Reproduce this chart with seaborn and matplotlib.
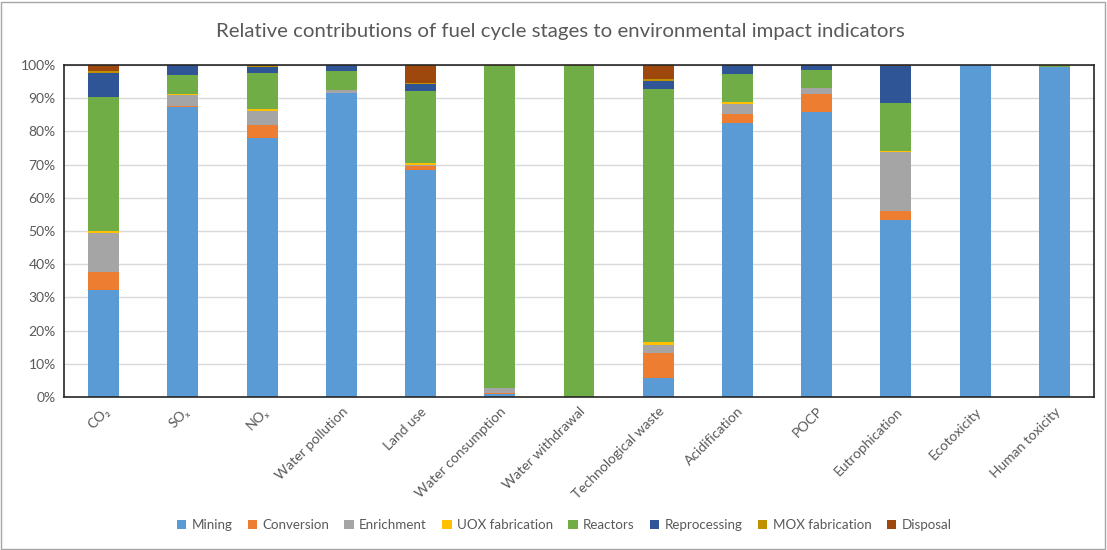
import numpy as np
import pandas as pd
import matplotlib
matplotlib.use("Agg")
import matplotlib.pyplot as plt
from matplotlib.patches import Rectangle, Patch
import seaborn as sns

categories = ["CO₂", "SOₓ", "NOₓ", "Water pollution", "Land use", "Water consumption",
              "Water withdrawal", "Technological waste", "Acidification", "POCP",
              "Eutrophication", "Ecotoxicity", "Human toxicity"]
stages = ["Mining", "Conversion", "Enrichment", "UOX fabrication", "Reactors",
          "Reprocessing", "MOX fabrication", "Disposal"]

mining       = [32.2, 87.4, 77.9, 91.6, 68.3, 0.8, 0.0, 5.6, 82.4, 85.9, 53.3, 99.9, 99.5]
conversion   = [5.4, 0.3, 4.1, 0.0, 1.2, 0.5, 0.0, 7.7, 2.7, 5.3, 2.8, 0.0, 0.0]
enrichment   = [11.7, 3.4, 4.2, 1.0, 0.3, 1.4, 0.0, 2.4, 3.3, 1.9, 17.7, 0.0, 0.0]
uox_fab      = [0.8, 0.1, 0.4, 0.0, 0.8, 0.0, 0.0, 0.9, 0.5, 0.1, 0.3, 0.0, 0.0]
reactors     = [40.2, 5.9, 11.0, 5.6, 21.5, 97.1, 99.8, 76.3, 8.5, 5.3, 14.5, 0.0, 0.2]
reprocessing = [7.3, 2.8, 1.8, 1.8, 2.3, 0.0, 0.0, 2.3, 2.6, 1.5, 11.1, 0.1, 0.0]
mox_fab      = [0.5, 0.05, 0.2, 0.0, 0.2, 0.1, 0.1, 0.7, 0.0, 0.0, 0.1, 0.0, 0.3]
disposal     = [1.8, 0.05, 0.3, 0.0, 5.3, 0.1, 0.1, 4.1, 0.0, 0.0, 0.2, 0.0, 0.0]

series = [mining, conversion, enrichment, uox_fab, reactors, reprocessing, mox_fab, disposal]
colors = ["#5B9BD5", "#ED7D31", "#A5A5A5", "#FFC000", "#70AD47", "#2F5597", "#BF9000", "#9E480E"]

sns.set_theme(style="white")
plt.rcParams['font.family'] = ['Lato', 'DejaVu Sans']
txt = "#595959"

fig = plt.figure(figsize=(11.07, 5.5), dpi=100)
ax = fig.add_axes([64/1107, 1 - 397/550, (1094 - 64)/1107, (397 - 65)/550])

bottom = np.zeros(len(categories))
for name, vals, col in zip(stages, series, colors):
    df = pd.DataFrame({"cat": categories, "val": vals})
    sns.barplot(data=df, x="cat", y="val", order=categories, color=col, width=0.39,
                errorbar=None, bottom=bottom.copy(), ax=ax, linewidth=0, saturation=1)
    bottom += np.array(vals)

ax.set_ylim(0, 100)
ax.set_xlim(-0.5, len(categories) - 0.5)
ax.set_yticks(np.arange(0, 101, 10))
ax.set_yticklabels([f"{v}%" for v in range(0, 101, 10)], color=txt, fontsize=10)
ax.yaxis.grid(True, color="#d9d9d9", linewidth=1)
ax.set_axisbelow(True)
ax.set_xlabel("")
ax.set_ylabel("")
ax.tick_params(axis="both", length=0, pad=6)
ax.set_xticks(range(len(categories)))
ax.set_xticklabels(categories, rotation=45, ha="right", rotation_mode="anchor",
                   color=txt, fontsize=10)
for s in ax.spines.values():
    s.set_visible(True)
    s.set_color("#262626")
    s.set_linewidth(1.2)

fig.suptitle("Relative contributions of fuel cycle stages to environmental impact indicators",
             x=560/1107, y=1 - 32/550, va="center", color=txt, fontsize=14.7)

handles = [Patch(facecolor=c, edgecolor="none") for c in colors]
fig.legend(handles, stages, loc="center", bbox_to_anchor=(564/1107, 1 - 525/550), ncol=8,
           frameon=False, fontsize=9.6, labelcolor=txt, handlelength=0.7, handleheight=0.7,
           handletextpad=0.4, columnspacing=1.15)

fig.patches.append(Rectangle((1/1107, 1/550), 1104/1107, 547/550, transform=fig.transFigure,
                             fill=False, edgecolor="#a6a6a6", linewidth=1))

fig.savefig("out.png", dpi=100)
